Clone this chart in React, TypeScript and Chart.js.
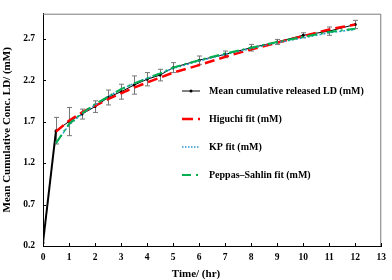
import React, { useEffect, useRef } from "react";
import { Chart, registerables } from "chart.js";

Chart.register(...registerables);

const TIMES = [0, 0.5, 1, 1.5, 2, 2.5, 3, 3.5, 4, 4.5, 5, 6, 7, 8, 9, 10, 11, 12];
const MEAN = [0.24, 1.59, 1.7, 1.79, 1.88, 1.99, 2.06, 2.14, 2.21, 2.26, 2.35, 2.44, 2.51, 2.59, 2.66, 2.74, 2.79, 2.87];
const ERR = [0.01, 0.16, 0.17, 0.06, 0.07, 0.09, 0.09, 0.11, 0.08, 0.07, 0.06, 0.05, 0.04, 0.04, 0.03, 0.03, 0.05, 0.05];

const FIT_TIMES = [0.5, 1, 1.5, 2, 2.5, 3, 3.5, 4, 4.5, 5, 6, 7, 8, 9, 10, 11, 12];
const HIGUCHI = [1.58, 1.71, 1.81, 1.89, 1.97, 2.04, 2.11, 2.17, 2.23, 2.29, 2.38, 2.48, 2.57, 2.65, 2.73, 2.81, 2.87];
const KP = [1.44, 1.66, 1.79, 1.9, 2.0, 2.09, 2.16, 2.22, 2.28, 2.34, 2.43, 2.51, 2.58, 2.65, 2.71, 2.77, 2.81];
const PEPPAS = [1.44, 1.67, 1.8, 1.91, 2.0, 2.09, 2.16, 2.22, 2.28, 2.35, 2.44, 2.52, 2.59, 2.66, 2.72, 2.78, 2.82];

const X_TICKS = [0, 1, 2, 3, 4, 5, 6, 7, 8, 9, 10, 11, 12, 13];
const Y_TICKS = [0.2, 0.7, 1.2, 1.7, 2.2, 2.7];

const LEGEND_LABELS = [
  "Mean cumulative released LD (mM)",
  "Higuchi fit (mM)",
  "KP fit (mM)",
  "Peppas\u2013Sahlin fit (mM)",
];

const FONT = "'Liberation Serif', 'Times New Roman', serif";
const BLUE = "#2e9ad4";
const GREEN = "#00b050";
const RED = "#ff0000";

const pts = (xs: number[], ys: number[]) => xs.map((x, i) => ({ x, y: ys[i] }));

const decorPlugin = {
  id: "decor",
  beforeDatasetsDraw(chart: any) {
    const { ctx } = chart;
    const xs = chart.scales.x;
    const ys = chart.scales.y;
    ctx.save();
    ctx.strokeStyle = "#767676";
    ctx.lineWidth = 1;
    TIMES.forEach((t, i) => {
      const e = ERR[i];
      if (e < 0.02) return;
      const px = Math.round(xs.getPixelForValue(t)) + 0.5;
      const top = ys.getPixelForValue(MEAN[i] + e);
      const bot = ys.getPixelForValue(MEAN[i] - e);
      ctx.beginPath();
      ctx.moveTo(px, top);
      ctx.lineTo(px, bot);
      ctx.moveTo(px - 2.5, top);
      ctx.lineTo(px + 2.5, top);
      ctx.moveTo(px - 2.5, bot);
      ctx.lineTo(px + 2.5, bot);
      ctx.stroke();
    });
    ctx.restore();
  },
  afterDraw(chart: any) {
    const { ctx, chartArea } = chart;
    const xs = chart.scales.x;
    const ys = chart.scales.y;
    ctx.save();
    // frame top/right
    ctx.strokeStyle = "#7a7a7a";
    ctx.lineWidth = 1;
    ctx.beginPath();
    ctx.moveTo(chartArea.left, chartArea.top + 0.5);
    ctx.lineTo(chartArea.right - 0.5, chartArea.top + 0.5);
    ctx.lineTo(chartArea.right - 0.5, chartArea.bottom);
    ctx.stroke();
    // inward ticks
    ctx.strokeStyle = "#000";
    ctx.beginPath();
    X_TICKS.forEach((t) => {
      const px = Math.round(xs.getPixelForValue(t)) + 0.5;
      ctx.moveTo(px, chartArea.bottom);
      ctx.lineTo(px, chartArea.bottom - 3);
    });
    Y_TICKS.forEach((v) => {
      const py = Math.round(ys.getPixelForValue(v)) + 0.5;
      ctx.moveTo(chartArea.left, py);
      ctx.lineTo(chartArea.left + 3, py);
    });
    ctx.stroke();

    // legend
    const rows = [91, 119, 147, 175];
    const x0 = 182;
    const x1 = 200;
    ctx.font = `bold 10px ${FONT}`;
    ctx.textBaseline = "middle";
    ctx.textAlign = "left";
    rows.forEach((y, i) => {
      ctx.save();
      ctx.beginPath();
      if (i === 0) {
        ctx.strokeStyle = "#000";
        ctx.lineWidth = 1;
        ctx.setLineDash([]);
      } else if (i === 1) {
        ctx.strokeStyle = RED;
        ctx.lineWidth = 2.5;
        ctx.setLineDash([11, 5]);
      } else if (i === 2) {
        ctx.strokeStyle = BLUE;
        ctx.lineWidth = 1.5;
        ctx.setLineDash([1.5, 1.5]);
      } else {
        ctx.strokeStyle = GREEN;
        ctx.lineWidth = 2;
        ctx.setLineDash([9, 5, 2, 10]);
      }
      ctx.moveTo(x0, y);
      ctx.lineTo(i === 3 ? 198 : x1, y);
      ctx.stroke();
      if (i === 0) {
        ctx.fillStyle = "#000";
        ctx.beginPath();
        ctx.arc(191, y, 1.5, 0, Math.PI * 2);
        ctx.fill();
      }
      ctx.restore();
      ctx.fillStyle = "#000";
      ctx.fillText(LEGEND_LABELS[i], 209, y);
    });

    // x axis title
    ctx.font = `bold 11px ${FONT}`;
    ctx.textAlign = "center";
    ctx.fillText("Time/ (hr)", 196, 274);
    ctx.restore();
  },
};

export default function App() {
  const ref = useRef<HTMLCanvasElement>(null);
  useEffect(() => {
    document.body.style.margin = "0";
    const canvas = ref.current!;
    const chart = new Chart(canvas, {
      type: "line",
      data: {
        datasets: [
          {
            label: LEGEND_LABELS[0],
            data: pts(TIMES, MEAN),
            borderColor: "#000",
            backgroundColor: "#000",
            borderWidth: 1,
            segment: {
              borderWidth: (c: any) => (c.p0DataIndex === 0 ? 2 : 1),
            },
            pointRadius: 1.5,
            pointBorderWidth: 0,
            order: 4,
          },
          {
            label: LEGEND_LABELS[1],
            data: pts(FIT_TIMES, HIGUCHI),
            borderColor: RED,
            borderWidth: 2.5,
            borderDash: [10, 5],
            pointRadius: 0,
            order: 3,
          },
          {
            label: LEGEND_LABELS[2],
            data: pts(FIT_TIMES, KP),
            borderColor: BLUE,
            borderWidth: 1.5,
            borderDash: [2, 2],
            pointRadius: 0,
            order: 2,
          },
          {
            label: LEGEND_LABELS[3],
            data: pts(FIT_TIMES, PEPPAS),
            borderColor: GREEN,
            borderWidth: 2,
            borderDash: [10, 4, 2, 4],
            pointRadius: 0,
            order: 1,
          },
        ],
      },
      options: {
        animation: false,
        responsive: false,
        devicePixelRatio: 1,
        layout: { padding: { top: 3, right: 7, left: 0, bottom: 0 } },
        plugins: { legend: { display: false }, tooltip: { enabled: false } },
        scales: {
          x: {
            type: "linear",
            min: 0,
            max: 13,
            afterBuildTicks: (s: any) => {
              s.ticks = X_TICKS.map((v) => ({ value: v }));
            },
            afterFit: (s: any) => {
              s.height = 34;
            },
            grid: { display: false, drawTicks: false },
            border: { display: true, color: "#000", width: 1 },
            ticks: {
              padding: 6,
              color: "#000",
              font: { family: FONT, size: 9.5, weight: "bold" },
              maxRotation: 0,
              autoSkip: false,
            },
            title: { display: false },
          },
          y: {
            type: "linear",
            min: 0.2,
            max: 3.0,
            afterBuildTicks: (s: any) => {
              s.ticks = Y_TICKS.map((v) => ({ value: v }));
            },
            afterFit: (s: any) => {
              s.width = 43;
            },
            grid: { display: false, drawTicks: false },
            border: { display: true, color: "#000", width: 1 },
            ticks: {
              padding: 8,
              color: "#000",
              font: { family: FONT, size: 9.5, weight: "bold" },
              callback: (v: any) => Number(v).toFixed(1),
              autoSkip: false,
            },
            title: {
              display: true,
              text: "Mean Cumulative Conc. LD/ (mM)",
              color: "#000",
              font: { family: FONT, size: 11, weight: "bold" },
              padding: { top: 1, bottom: 0 },
            },
          },
        },
      },
      plugins: [decorPlugin],
    });
    return () => chart.destroy();
  }, []);
  return (
    <div style={{ width: 392, height: 280, background: "#fff" }}>
      <canvas ref={ref} width={392} height={280} style={{ display: "block" }} />
    </div>
  );
}
